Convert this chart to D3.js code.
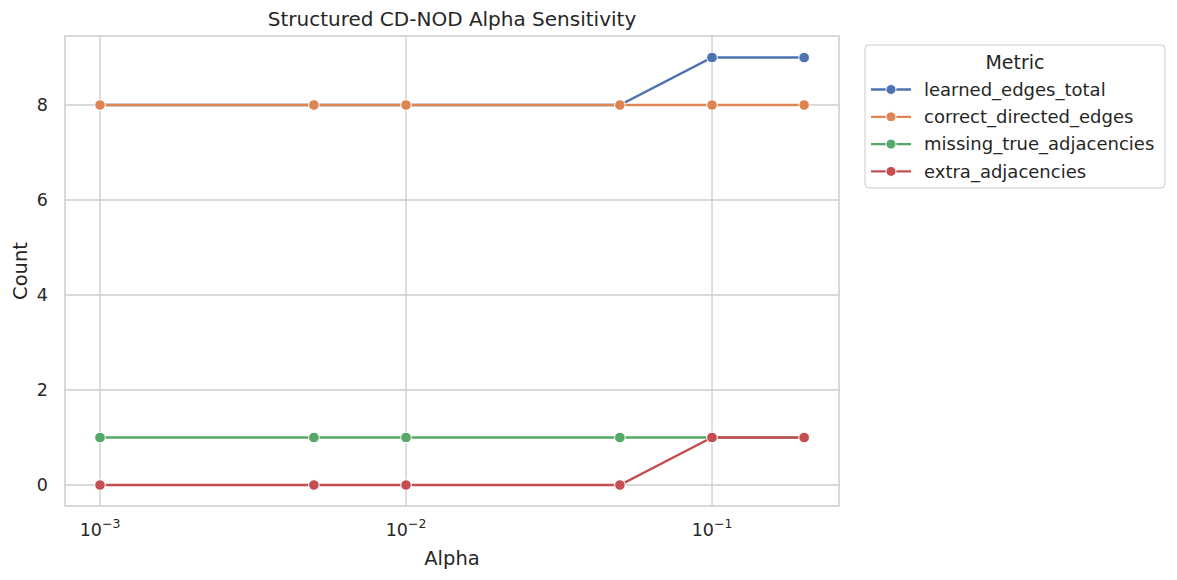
<!DOCTYPE html>
<html><head><meta charset="utf-8">
<script src="https://cdn.jsdelivr.net/npm/d3@7"></script>
<style>body{margin:0;background:#fff;} text{font-family:"DejaVu Sans",sans-serif;fill:#262626;}</style>
</head><body>
<svg id="c" width="1177" height="580"></svg>
<script>
const alphas = [0.001, 0.005, 0.01, 0.05, 0.1, 0.2];
const learnedEdgesTotal = [8, 8, 8, 8, 9, 9];
const correctDirectedEdges = [8, 8, 8, 8, 8, 8];
const missingTrueAdjacencies = [1, 1, 1, 1, 1, 1];
const extraAdjacencies = [0, 0, 0, 0, 1, 1];
const seriesNames = ["learned_edges_total","correct_directed_edges","missing_true_adjacencies","extra_adjacencies"];
const seriesColors = ["#4c72b0","#dd8452","#55a868","#c44e52"];
const yTicks = [0, 2, 4, 6, 8];
const xTicks = [0.001, 0.01, 0.1];
const xTickExp = ["−3","−2","−1"];

const series = [learnedEdgesTotal, correctDirectedEdges, missingTrueAdjacencies, extraAdjacencies]
  .map((v,i)=>({name:seriesNames[i], color:seriesColors[i], values:v}));

const svg = d3.select("#c");
const L=65, R=839, T=36, B=506;
const x = d3.scaleLog().domain([Math.pow(10,-3.1144), Math.pow(10,-0.585)]).range([L,R]);
const y = d3.scaleLinear().domain([-0.442, 9.453]).range([B,T]);

// grid
const g = svg.append("g");
g.selectAll(".gx").data(xTicks).enter().append("line")
  .attr("x1",d=>x(d)).attr("x2",d=>x(d)).attr("y1",T).attr("y2",B)
  .attr("stroke","#cccccc").attr("stroke-width",1.3);
g.selectAll(".gy").data(yTicks).enter().append("line")
  .attr("y1",d=>y(d)).attr("y2",d=>y(d)).attr("x1",L).attr("x2",R)
  .attr("stroke","#cccccc").attr("stroke-width",1.3);

// lines
const line = d3.line().x((d,i)=>x(alphas[i])).y(d=>y(d));
series.forEach(s=>{
  svg.append("path").datum(s.values).attr("d",line)
    .attr("fill","none").attr("stroke",s.color).attr("stroke-width",2.3);
  svg.selectAll(null).data(s.values).enter().append("circle")
    .attr("cx",(d,i)=>x(alphas[i])).attr("cy",d=>y(d)).attr("r",5.3)
    .attr("fill",s.color).attr("stroke","#fff").attr("stroke-width",1);
});

// frame
svg.append("rect").attr("x",L).attr("y",T).attr("width",R-L).attr("height",B-T)
  .attr("fill","none").attr("stroke","#cccccc").attr("stroke-width",1.5);

// x tick labels
xTicks.forEach((d,i)=>{
  const t = svg.append("text").attr("x",x(d)).attr("y",536).attr("text-anchor","middle").attr("font-size",17.5);
  t.append("tspan").text("10");
  t.append("tspan").attr("font-size",12.5).attr("dy",-8).text(xTickExp[i]);
});
// y tick labels
yTicks.forEach(d=>{
  svg.append("text").attr("x",L-17).attr("y",y(d)).attr("dy","0.35em").attr("text-anchor","end")
    .attr("font-size",17.5).text(d);
});

// axis labels + title
svg.append("text").attr("x",(L+R)/2).attr("y",565).attr("text-anchor","middle").attr("font-size",19.5).text("Alpha");
svg.append("text").attr("transform",`translate(27,${(T+B)/2}) rotate(-90)`).attr("text-anchor","middle").attr("font-size",19.5).text("Count");
svg.append("text").attr("x",(L+R)/2).attr("y",26).attr("text-anchor","middle").attr("font-size",20).text("Structured CD-NOD Alpha Sensitivity");

// legend
const lg = svg.append("g");
lg.append("rect").attr("x",865).attr("y",45).attr("width",300).attr("height",143).attr("rx",4)
  .attr("fill","#fff").attr("fill-opacity",0.8).attr("stroke","#cccccc").attr("stroke-width",1);
lg.append("text").attr("x",1015).attr("y",62).attr("dy","0.35em").attr("text-anchor","middle").attr("font-size",19).text("Metric");
series.forEach((s,i)=>{
  const yy = 89.5 + i*27.3;
  lg.append("line").attr("x1",871).attr("x2",911).attr("y1",yy).attr("y2",yy).attr("stroke",s.color).attr("stroke-width",2.3);
  lg.append("circle").attr("cx",891).attr("cy",yy).attr("r",5).attr("fill",s.color).attr("stroke","#fff").attr("stroke-width",1);
  lg.append("text").attr("x",924).attr("y",yy).attr("dy","0.35em").attr("font-size",18).text(s.name);
});
</script>
</body></html>
